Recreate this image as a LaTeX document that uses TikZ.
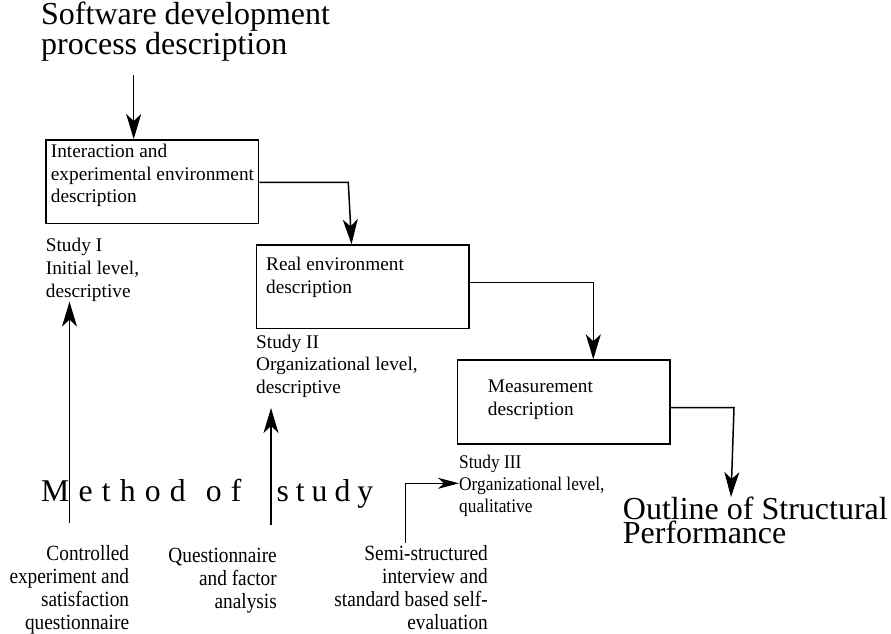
\documentclass[tikz,border=0pt]{standalone}
\usepackage{fontspec}
\setmainfont{Liberation Serif}
\newfontfamily\narrowserif[FakeStretch=0.89]{Liberation Serif}
\newfontfamily\slimserif[FakeStretch=0.9]{Liberation Serif}
\newfontfamily\spacedserif[LetterSpace=29]{Liberation Serif}
\usetikzlibrary{arrows.meta}

\begin{document}
\begin{tikzpicture}[x=1pt,y=-1pt,
  stagebox/.style={draw, line width=1.7pt, rectangle, inner sep=0pt, anchor=north west},
  flow/.style={line width=1.5pt, -{Stealth[length=25pt,width=15pt,inset=7pt]}},
  flowsmall/.style={line width=1.5pt, -{Stealth[length=21pt,width=11pt,inset=6pt]}},
  boxtext/.style={inner sep=0pt, anchor=base west, align=left,
    font=\fontsize{19.3}{22.8}\selectfont},
  studytext/.style={boxtext},
  slimtext/.style={inner sep=0pt, anchor=base west, align=left,
    font=\slimserif\fontsize{19.3}{22.4}\selectfont},
  headline/.style={inner sep=0pt, anchor=base west, align=left,
    font=\fontsize{32}{22}\selectfont},
  methodtext/.style={inner sep=0pt, anchor=base east, align=right,
    font=\narrowserif\fontsize{21.7}{23.1}\selectfont}
]
\path[fill=white] (0,0) rectangle (891,633);
\useasboundingbox (0,0) rectangle (891,633);

% headings (anchored on the baseline of their last line)
\node[headline] (title) at (41,54.3) {Software development\\process description};
\node[headline, font=\fontsize{32}{21}\selectfont] (out) at (622.7,543.5) {Outline of Structural\\Performance};
\node[inner sep=0pt, anchor=base west, font=\spacedserif\fontsize{31.7}{32}\selectfont]
  (method) at (41,501.7) {Method\hspace{3pt} of\hspace{18pt} {\addfontfeature{LetterSpace=22}study}};

% stage boxes
\node[stagebox, minimum width=212.7pt, minimum height=83.7pt] (b1) at (45,139) {};
\node[stagebox, minimum width=212.6pt, minimum height=83.4pt] (b2) at (255.7,244.3) {};
\node[stagebox, minimum width=212.3pt, minimum height=84pt] (b3) at (456.7,359.3) {};

\node[boxtext] (t1) at (50.7,202.9) {Interaction and\\experimental environment\\description};
\node[boxtext] (t2) at (266,293.5) {Real environment\\description};
\node[boxtext] (t3) at (487.7,415.5) {Measurement\\description};

% study levels
\node[studytext] (s1) at (45.7,297.3) {Study I\\Initial level,\\descriptive};
\node[studytext] (s2) at (256,393.6) {Study II\\Organizational level,\\descriptive};
\node[slimtext] (s3) at (459,512.8) {Study III\\Organizational level,\\qualitative};

% methods
\node[methodtext] (c1) at (129.3,629.3) {Controlled\\experiment and\\satisfaction\\questionnaire};
\node[methodtext] (c2) at (277,608.5) {Questionnaire\\and factor\\analysis};
\node[methodtext] (c3) at (488,629.3) {Semi-structured\\interview and\\standard based self-\\evaluation};

% process flow
\coordinate (s0) at (133.7,75);
\draw[flow] (s0) -- (s0 |- b1.north);
\coordinate (k1) at (348.3,182.3);
\draw[flow] (b1.east |- k1) -- (k1) -- ([xshift=-11.3pt]b2.north);
\coordinate (k2) at (593.3,282.7);
\draw[flow] (b2.east |- k2) -- (k2) -- (k2 |- b3.north);
\coordinate (k3) at (734,407.5);
\coordinate (e3) at (731,497);
\draw[flow] (b3.east |- k3) -- (k3) -- (e3);

% method arrows
\coordinate (m1) at (69.5,523);
\draw[flow] (m1) -- (m1 |- s1.south);
\coordinate (m2) at (271,525);
\coordinate (e2) at (271,408);
\draw[flow] (m2) -- (e2);
\coordinate (m3) at (405.7,542.7);
\coordinate (k4) at (405.7,483.3);
\draw[flowsmall] (m3) -- (k4) -- (s3.west |- k4);
\end{tikzpicture}
\end{document}
